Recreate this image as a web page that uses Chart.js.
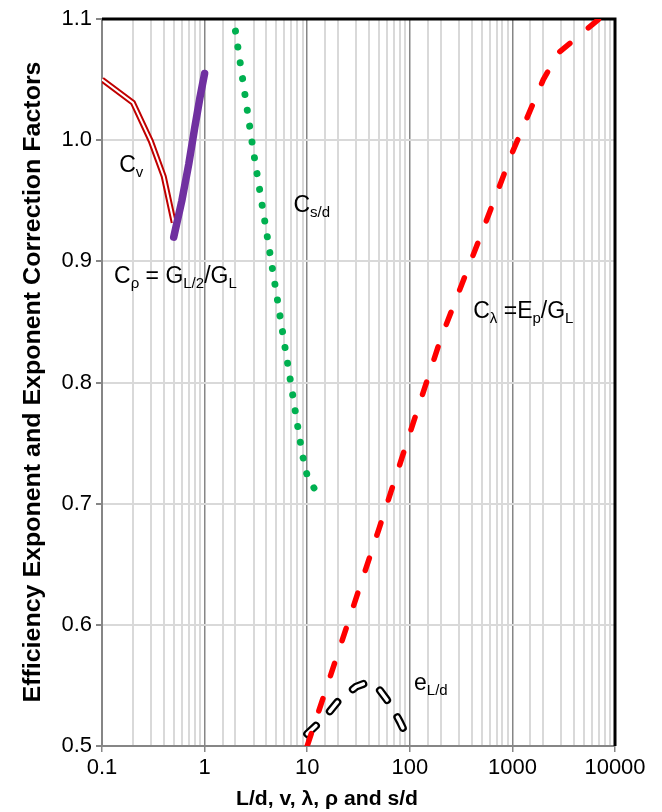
<!DOCTYPE html>
<html>
<head>
<meta charset="utf-8">
<title>Efficiency exponent and correction factors</title>
<script src="https://cdn.jsdelivr.net/npm/chart.js@4.4.1/dist/chart.umd.min.js"></script>
<style>
  html, body { margin: 0; padding: 0; background: #fff; }
  #wrap { position: relative; width: 662px; height: 812px; }
</style>
</head>
<body>
<div id="wrap"><canvas id="factorChart"></canvas></div>
<script>
// ==== Data ====
const xTickLabels = ['0.1', '1', '10', '100', '1000', '10000'];
const yTickLabels = ['0.5', '0.6', '0.7', '0.8', '0.9', '1.0', '1.1'];

// C_v  (double red line)
const cvX = [0.1, 0.2, 0.3, 0.4, 0.5];
const cvY = [1.05, 1.031, 0.999, 0.970, 0.932];

// C_rho = G_L/2 / G_L  (thick purple)
const cRhoX = [0.5, 0.6, 0.7, 0.8, 0.9, 1.0];
const cRhoY = [0.92, 0.95, 0.98, 1.01, 1.035, 1.055];

// C_s/d  (green dots)
const cSdX = [2, 3, 4, 5, 6, 7, 8, 9, 10, 12];
const cSdY = [1.09, 0.99, 0.925, 0.874, 0.832, 0.797, 0.766, 0.740, 0.723, 0.711];

// C_lambda = E_p / G_L  (red dashes)
const cLamX = [10, 20, 50, 100, 200, 500, 1000, 2000, 2800, 7000, 10000];
const cLamY = [0.5, 0.577, 0.679, 0.758, 0.836, 0.923, 0.99, 1.05, 1.072, 1.1, 1.1];

// e_L/d  (outlined black dashes)
const eLdX = [10, 15, 20, 30, 40, 50, 60, 70, 80, 90];
const eLdY = [0.51, 0.524, 0.537, 0.549, 0.553, 0.547, 0.538, 0.529, 0.520, 0.511];

const FONT = "'Liberation Sans', Arial, sans-serif";

function pts(xs, ys) {
  return xs.map((x, i) => ({ x: x, y: ys[i] }));
}

function isDecade(v) {
  const l = Math.log10(v);
  return Math.abs(l - Math.round(l)) < 1e-6;
}

// curve labels, placed in data units
const notes = [
  { x: 0.147, y: 0.974, parts: [['C'], ['v', 1]] },
  { x: 7.34, y: 0.941, parts: [['C'], ['s/d', 1]] },
  { x: 0.131, y: 0.882, parts: [['C'], ['ρ', 1], [' = G'], ['L/2', 1], ['/G'], ['L', 1]] },
  { x: 415, y: 0.853, parts: [['C'], ['λ', 1], [' =E'], ['p', 1], ['/G'], ['L', 1]] },
  { x: 110, y: 0.546, parts: [['e'], ['L/d', 1]] }
];

function drawRich(ctx, x, y, parts) {
  let cx = x;
  parts.forEach(p => {
    const sub = p[1] === 1;
    ctx.font = (sub ? '15px ' : '23px ') + FONT;
    ctx.fillText(p[0], cx, sub ? y + 5 : y);
    cx += ctx.measureText(p[0]).width;
  });
}

// stretch/squeeze a bold title to a fixed length
function fitText(ctx, text, cx, cy, len, angle, font) {
  ctx.save();
  ctx.font = font;
  const w = ctx.measureText(text).width;
  ctx.translate(cx, cy);
  ctx.rotate(angle);
  ctx.scale(len / w, 1);
  ctx.textAlign = 'center';
  ctx.textBaseline = 'middle';
  ctx.fillText(text, 0, 0);
  ctx.restore();
}

const framePlugin = {
  id: 'frameAndText',
  beforeDatasetsDraw(chart) {
    const { ctx, chartArea: a } = chart;
    ctx.save();
    ctx.strokeStyle = '#000';
    ctx.lineWidth = 3;
    ctx.beginPath();
    ctx.moveTo(a.left, a.top);
    ctx.lineTo(a.right, a.top);
    ctx.lineTo(a.right, a.bottom);
    ctx.stroke();
    ctx.restore();
  },
  afterDraw(chart) {
    const { ctx } = chart;
    const xs = chart.scales.x, ys = chart.scales.y;
    ctx.save();
    ctx.fillStyle = '#000';
    ctx.textBaseline = 'alphabetic';
    notes.forEach(n => drawRich(ctx, xs.getPixelForValue(n.x), ys.getPixelForValue(n.y), n.parts));
    fitText(ctx, 'Efficiency Exponent and Exponent Correction Factors', 33, 382, 641, -Math.PI / 2, 'bold 24px ' + FONT);
    fitText(ctx, 'L/d, v, λ, ρ and s/d', 327, 799, 182, 0, 'bold 20px ' + FONT);
    ctx.restore();
  }
};

const ctx = document.getElementById('factorChart');
new Chart(ctx, {
  type: 'line',
  data: {
    datasets: [
      { // C_rho
        data: pts(cRhoX, cRhoY), borderColor: '#7030A0', borderWidth: 7.5,
        borderCapStyle: 'round', borderJoinStyle: 'round', order: 1
      },
      { // C_s/d
        data: pts(cSdX, cSdY), borderColor: '#00B050', borderWidth: 7,
        borderDash: [0.01, 16], borderCapStyle: 'round', order: 3
      },
      { // C_lambda
        data: pts(cLamX, cLamY), borderColor: '#FF0000', borderWidth: 5.5,
        borderDash: [13, 24], borderCapStyle: 'round', borderJoinStyle: 'round', order: 4
      },
      { // C_v inner
        data: pts(cvX, cvY), borderColor: '#FFFFFF', borderWidth: 2, order: 5
      },
      { // C_v outer
        data: pts(cvX, cvY), borderColor: '#C00000', borderWidth: 6, order: 6
      },
      { // e_L/d inner
        data: pts(eLdX, eLdY), borderColor: '#FFFFFF', borderWidth: 3.5,
        borderDash: [12, 20], borderCapStyle: 'round', borderJoinStyle: 'round', order: 7
      },
      { // e_L/d outer
        data: pts(eLdX, eLdY), borderColor: '#000000', borderWidth: 8,
        borderDash: [12, 20], borderCapStyle: 'round', borderJoinStyle: 'round', order: 8
      }
    ]
  },
  options: {
    responsive: true,
    maintainAspectRatio: false,
    animation: false,
    layout: { padding: { top: 19, right: 47, left: 0, bottom: 0 } },
    elements: { point: { radius: 0 }, line: { tension: 0, fill: false } },
    plugins: { legend: { display: false }, tooltip: { enabled: false } },
    scales: {
      x: {
        type: 'logarithmic',
        min: 0.1,
        max: 10000,
        afterFit: s => { s.height = 66; },
        border: { color: '#868686', width: 2 },
        grid: {
          color: c => (c.tick && isDecade(c.tick.value)) ? '#868686' : '#d9d9d9',
          lineWidth: c => (c.tick && isDecade(c.tick.value)) ? 1.5 : 2,
          tickColor: c => (c.tick && isDecade(c.tick.value)) ? '#868686' : 'rgba(0,0,0,0)',
          tickLength: 6
        },
        ticks: {
          autoSkip: false,
          maxRotation: 0,
          minRotation: 0,
          padding: 3,
          color: '#000',
          font: { family: FONT, size: 22 },
          callback: v => {
            const s = String(+Number(v).toPrecision(6));
            return xTickLabels.includes(s) ? s : '';
          }
        }
      },
      y: {
        type: 'linear',
        min: 0.5,
        max: 1.1,
        afterFit: s => { s.width = 102; },
        border: { color: '#868686', width: 2 },
        grid: { color: '#d9d9d9', lineWidth: 2, tickColor: '#868686', tickLength: 6 },
        ticks: {
          stepSize: 0.1,
          padding: 4,
          color: '#000',
          font: { family: FONT, size: 22 },
          callback: v => {
            const s = Number(v).toFixed(1);
            return yTickLabels.includes(s) ? s : '';
          }
        }
      }
    }
  },
  plugins: [framePlugin]
});
</script>
</body>
</html>
